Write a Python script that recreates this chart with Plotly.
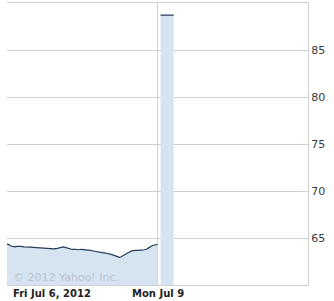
import plotly.graph_objects as go

# Friday Jul 6 session: minutes since open, price
fri_t = [0, 5, 10, 16, 21, 26, 31, 36, 44, 52, 60, 68, 75, 83, 91, 99, 107, 114, 122, 130,
         138, 146, 153, 161, 169, 177, 185, 192, 200, 208, 216, 224, 231, 239, 247, 255,
         263, 270, 278, 286, 291, 296, 302, 309, 317, 325, 333, 341, 348, 356, 361, 367,
         372, 377, 385, 390]
fri_v = [64.36, 64.3, 64.15, 64.1, 64.05, 64.1, 64.06, 64.1, 64.05, 64.08, 64.03, 64.0,
         63.98, 63.95, 63.93, 63.9, 63.88, 63.84, 63.84, 63.9, 63.98, 64.05, 63.98, 63.85,
         63.78, 63.8, 63.75, 63.8, 63.78, 63.72, 63.68, 63.62, 63.55, 63.5, 63.44, 63.4,
         63.35, 63.25, 63.15, 63.05, 62.95, 63.0, 63.15, 63.35, 63.5, 63.65, 63.7, 63.7,
         63.72, 63.75, 63.8, 63.95, 64.1, 64.2, 64.28, 64.32]
# Monday Jul 9 session (minutes continue after Friday's 390)
mon_t = [398, 410, 420, 432]
mon_v = [88.72, 88.7, 88.7, 88.7]

y_ticks = [65, 70, 75, 80, 85]
x_labels = ["Fri Jul 6, 2012", "Mon Jul 9"]

fill_col = "rgb(214,228,241)"
line_col = "rgb(36,60,88)"
grid_col = "rgb(208,208,208)"

fig = go.Figure()
fig.add_trace(go.Scatter(x=fri_t, y=fri_v, mode="lines", fill="tozeroy",
                         fillcolor=fill_col, line=dict(color=line_col, width=1.2)))
fig.add_trace(go.Scatter(x=mon_t, y=mon_v, mode="lines", fill="tozeroy",
                         fillcolor=fill_col, line=dict(color=line_col, width=1.2)))

fig.update_layout(
    width=334, height=301,
    margin=dict(l=7, r=26, t=3, b=16),
    paper_bgcolor="white", plot_bgcolor="white",
    showlegend=False,
    font=dict(family="DejaVu Sans", size=10, color="#333"),
    xaxis=dict(range=[0, 780], tickvals=[390], ticktext=[""], showgrid=True,
               gridcolor=grid_col, gridwidth=1, zeroline=False, showline=True,
               linecolor=grid_col, mirror=True, ticks=""),
    yaxis=dict(range=[60, 90], side="right", tickvals=y_ticks,
               ticktext=[str(v) for v in y_ticks], showgrid=True, gridcolor=grid_col,
               zeroline=False, showline=True, linecolor=grid_col, ticks="",
               tickfont=dict(size=11, color="#3a3a3a")),
    annotations=[
        dict(x=0.012, y=0.028, xref="paper", yref="paper", text="© 2012 Yahoo! Inc.",
             showarrow=False, xanchor="left", yanchor="middle",
             font=dict(size=11, color="rgb(185,195,205)")),
        dict(x=10, y=-0.005, xref="x", yref="paper", text="<b>" + x_labels[0] + "</b>",
             showarrow=False, xanchor="left", yanchor="top",
             font=dict(size=10, color="#222")),
        dict(x=390, y=-0.005, xref="x", yref="paper", text="<b>" + x_labels[1] + "</b>",
             showarrow=False, xanchor="center", yanchor="top",
             font=dict(size=10, color="#222")),
    ],
)

fig.write_html("out.html")
